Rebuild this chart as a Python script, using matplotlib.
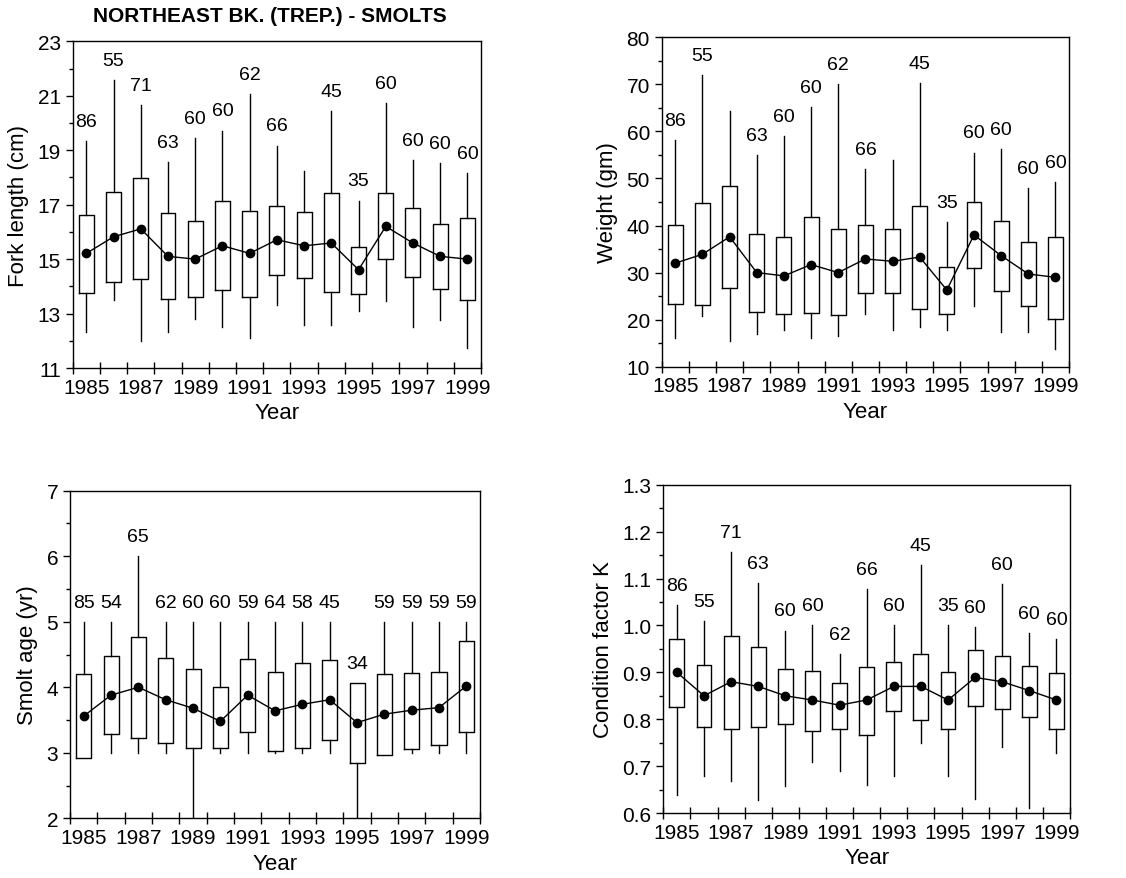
import numpy as np
import matplotlib
matplotlib.use('Agg')
import matplotlib.pyplot as plt

plt.rcParams['font.family'] = ['Liberation Sans', 'DejaVu Sans']

years = list(range(1985, 2000))

# Fork length (cm)
fl_whi = [19.35, 21.58, 20.66, 18.56, 19.44, 19.72, 21.07, 19.17, 18.25, 20.44, 17.15, 20.73, 18.64, 18.52, 18.15]
fl_q3 = [16.63, 17.45, 17.97, 16.68, 16.39, 17.15, 16.78, 16.96, 16.72, 17.42, 15.46, 17.42, 16.87, 16.29, 16.50]
fl_q1 = [13.76, 14.17, 14.27, 13.53, 13.62, 13.88, 13.62, 14.42, 14.29, 13.80, 13.72, 15.00, 14.33, 13.90, 13.50]
fl_wlo = [12.31, 13.50, 12.00, 12.31, 12.80, 12.49, 12.09, 13.31, 12.58, 12.58, 13.08, 13.47, 12.49, 12.78, 11.72]
fl_mean = [15.21, 15.82, 16.11, 15.10, 15.00, 15.49, 15.21, 15.71, 15.49, 15.59, 14.61, 16.20, 15.59, 15.10, 15.00]
fl_n = ['86', '55', '71', '63', '60', '60', '62', '66', '', '45', '35', '60', '60', '60', '60']

# Weight (gm)
wt_whi = [58.2, 72.0, 64.4, 55.0, 59.0, 65.1, 70.0, 52.0, 54.0, 70.3, 40.7, 55.5, 56.3, 47.9, 49.3]
wt_q3 = [40.2, 44.7, 48.3, 38.3, 37.5, 41.9, 39.2, 40.1, 39.2, 44.2, 31.2, 45.0, 41.0, 36.4, 37.6]
wt_q1 = [23.4, 23.1, 26.8, 21.7, 21.3, 21.5, 21.0, 25.6, 25.6, 22.2, 21.3, 30.9, 26.0, 22.9, 20.1]
wt_wlo = [16.0, 20.8, 15.4, 16.9, 17.8, 16.0, 16.6, 21.2, 17.8, 18.5, 17.8, 22.9, 17.4, 17.4, 13.7]
wt_mean = [32.0, 33.9, 37.6, 30.0, 29.3, 31.7, 30.0, 32.9, 32.4, 33.3, 26.3, 38.0, 33.6, 29.7, 29.0]
wt_n = ['86', '55', '', '63', '60', '60', '62', '66', '', '45', '35', '60', '60', '60', '60']

# Smolt age (yr)
ag_whi = [5.0, 5.0, 6.0, 5.0, 5.0, 5.0, 5.0, 5.0, 5.0, 5.0, 4.07, 5.0, 5.0, 5.0, 5.0]
ag_q3 = [4.20, 4.48, 4.76, 4.45, 4.28, 4.01, 4.43, 4.23, 4.37, 4.42, 4.07, 4.20, 4.22, 4.23, 4.71]
ag_q1 = [2.92, 3.28, 3.22, 3.15, 3.07, 3.07, 3.31, 3.02, 3.08, 3.20, 2.84, 2.96, 3.06, 3.12, 3.32]
ag_wlo = [2.92, 3.0, 3.0, 3.0, 2.0, 3.0, 3.0, 3.0, 3.0, 3.0, 2.0, 2.96, 3.0, 3.0, 3.0]
ag_mean = [3.56, 3.88, 4.00, 3.81, 3.68, 3.48, 3.88, 3.64, 3.74, 3.81, 3.46, 3.59, 3.65, 3.69, 4.02]
ag_n = ['85', '54', '65', '62', '60', '60', '59', '64', '58', '45', '34', '59', '59', '59', '59']

# Condition factor K
k_whi = [1.043, 1.010, 1.156, 1.090, 0.989, 1.000, 0.939, 1.078, 1.000, 1.129, 1.000, 0.996, 1.088, 0.983, 0.971]
k_q3 = [0.971, 0.915, 0.978, 0.955, 0.908, 0.903, 0.877, 0.912, 0.921, 0.939, 0.900, 0.948, 0.935, 0.914, 0.898]
k_q1 = [0.827, 0.783, 0.779, 0.783, 0.790, 0.774, 0.780, 0.766, 0.818, 0.798, 0.779, 0.829, 0.822, 0.805, 0.780]
k_wlo = [0.638, 0.678, 0.669, 0.628, 0.658, 0.709, 0.689, 0.660, 0.678, 0.749, 0.680, 0.630, 0.740, 0.610, 0.729]
k_mean = [0.900, 0.850, 0.880, 0.870, 0.850, 0.841, 0.830, 0.841, 0.870, 0.870, 0.841, 0.889, 0.880, 0.861, 0.841]
k_n = ['86', '55', '71', '63', '60', '60', '62', '66', '60', '45', '35', '60', '60', '60', '60']


def panel(ax, whi, q3, q1, wlo, mean, n, ylabel, ylim, major, minor, fmt):
    pos = np.arange(len(years))
    stats = []
    for i in range(len(years)):
        stats.append({'whislo': wlo[i], 'q1': q1[i], 'med': mean[i],
                      'q3': q3[i], 'whishi': whi[i], 'fliers': []})
    ax.bxp(stats, positions=pos, widths=0.55, showcaps=False, showfliers=False,
           patch_artist=False,
           boxprops=dict(color='black', linewidth=1.0),
           whiskerprops=dict(color='black', linewidth=1.0),
           medianprops=dict(visible=False))
    ax.plot(pos, mean, color='black', linewidth=1.0, marker='o',
            markersize=6, zorder=5)
    for i in range(len(years)):
        if n[i]:
            ax.annotate(n[i], (pos[i], whi[i]), xytext=(0, 8),
                        textcoords='offset points', ha='center', va='bottom',
                        fontsize=14)
    ax.set_xlim(-0.5, len(years) - 0.5)
    ax.set_ylim(*ylim)
    ax.set_xticks(np.arange(-0.5, len(years)))
    ax.set_xticklabels([''] * (len(years) + 1))
    ax.set_xticks(pos[::2], minor=True)
    ax.set_xticklabels([str(y) for y in years[::2]], minor=True, fontsize=15)
    ax.tick_params(axis='x', which='major', direction='inout', length=8, width=1)
    ax.tick_params(axis='x', which='minor', length=0, pad=7)
    ax.set_yticks(np.arange(ylim[0], ylim[1] + major / 2, major))
    ax.set_yticks(np.arange(ylim[0], ylim[1] + minor / 2, minor), minor=True)
    ax.set_yticklabels([fmt.format(v) for v in np.arange(ylim[0], ylim[1] + major / 2, major)],
                       fontsize=15)
    ax.tick_params(axis='y', which='major', direction='out', length=5, width=1)
    ax.tick_params(axis='y', which='minor', direction='out', length=3, width=1)
    ax.set_ylabel(ylabel, fontsize=16, labelpad=6)
    ax.set_xlabel('Year', fontsize=16, labelpad=4)
    for s in ax.spines.values():
        s.set_linewidth(1.0)


fig = plt.figure(figsize=(11.26, 8.79), dpi=100)
ax1 = fig.add_axes([0.0646, 0.5802, 0.3626, 0.3717])
ax2 = fig.add_axes([0.5877, 0.5817, 0.3617, 0.3747])
ax3 = fig.add_axes([0.0622, 0.0679, 0.3641, 0.3727])
ax4 = fig.add_axes([0.5891, 0.0739, 0.3612, 0.3735])

panel(ax1, fl_whi, fl_q3, fl_q1, fl_wlo, fl_mean, fl_n, 'Fork length (cm)', (11, 23), 2, 1, '{:.0f}')
panel(ax2, wt_whi, wt_q3, wt_q1, wt_wlo, wt_mean, wt_n, 'Weight (gm)', (10, 80), 10, 5, '{:.0f}')
panel(ax3, ag_whi, ag_q3, ag_q1, ag_wlo, ag_mean, ag_n, 'Smolt age (yr)', (2, 7), 1, 0.5, '{:.0f}')
panel(ax4, k_whi, k_q3, k_q1, k_wlo, k_mean, k_n, 'Condition factor K', (0.6, 1.3), 0.1, 0.05, '{:.1f}')

fig.text(0.2398, 0.981, 'NORTHEAST BK. (TREP.) - SMOLTS', ha='center', va='center',
         fontsize=15, fontweight='bold')

fig.savefig('out.png', dpi=100)
